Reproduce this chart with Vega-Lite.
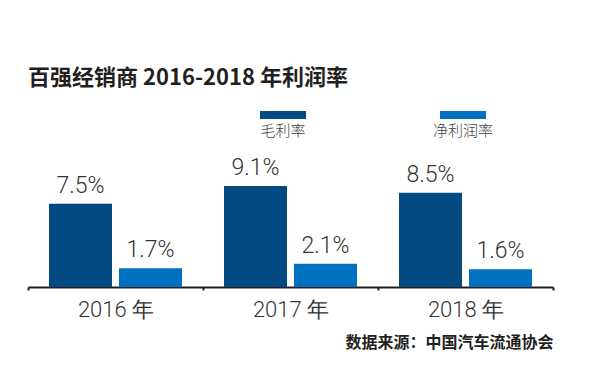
{
  "$schema": "https://vega.github.io/schema/vega-lite/v6.json",
  "autosize": {"type": "none"},
  "width": 525,
  "height": 111,
  "padding": {"left": 28, "top": 176, "right": 36, "bottom": 95},
  "background": "#ffffff",
  "title": {
    "text": "百强经销商 2016-2018 年利润率",
    "anchor": "start",
    "frame": "group",
    "font": "Noto Sans CJK SC",
    "fontWeight": "bold",
    "fontSize": 22,
    "color": "#231f20",
    "offset": 18
  },
  "config": {
    "view": {"stroke": null},
    "text": {"font": "Roboto"}
  },
  "data": {
    "values": [
      {"year": "2016 年", "type": "毛利率", "value": 7.5, "label": "7.5%"},
      {"year": "2016 年", "type": "净利润率", "value": 1.7, "label": "1.7%"},
      {"year": "2017 年", "type": "毛利率", "value": 9.1, "label": "9.1%"},
      {"year": "2017 年", "type": "净利润率", "value": 2.1, "label": "2.1%"},
      {"year": "2018 年", "type": "毛利率", "value": 8.5, "label": "8.5%"},
      {"year": "2018 年", "type": "净利润率", "value": 1.6, "label": "1.6%"}
    ]
  },
  "encoding": {
    "x": {
      "field": "year",
      "type": "nominal",
      "sort": null,
      "scale": {"paddingInner": 0, "paddingOuter": 0},
      "axis": {
        "title": "数据来源：中国汽车流通协会",
        "titleFont": "Noto Sans CJK SC",
        "titleFontWeight": "bold",
        "titleFontSize": 16,
        "titleColor": "#231f20",
        "titleAnchor": "end",
        "titlePadding": 14,
        "labelAngle": 0,
        "labelFont": "Roboto",
        "labelFontWeight": 300,
        "labelFontSize": 22,
        "labelColor": "#333333",
        "labelPadding": 9,
        "domainColor": "#231f20",
        "domainWidth": 2,
        "tickBand": "extent",
        "tickColor": "#231f20",
        "tickWidth": 2,
        "tickSize": 3,
        "grid": false
      }
    },
    "xOffset": {
      "field": "type",
      "type": "nominal",
      "sort": ["毛利率", "净利润率"],
      "scale": {"paddingInner": 0.1, "paddingOuter": 0.3}
    },
    "y": {
      "field": "value",
      "type": "quantitative",
      "scale": {"domain": [0, 10]},
      "axis": null
    }
  },
  "layer": [
    {
      "mark": {"type": "bar"},
      "encoding": {
        "color": {
          "field": "type",
          "type": "nominal",
          "sort": ["毛利率", "净利润率"],
          "scale": {"domain": ["毛利率", "净利润率"], "range": ["#034a83", "#0071c0"]},
          "legend": {
            "title": null,
            "orient": "none",
            "direction": "horizontal",
            "legendX": 232,
            "legendY": -68,
            "padding": 0,
            "symbolType": "M-1,-0.87H1V-0.52H-1Z",
            "symbolSize": 2116,
            "symbolStrokeWidth": 0,
            "symbolOpacity": 1,
            "labelAlign": "center",
            "labelBaseline": "middle",
            "labelOffset": -23,
            "labelFont": "Noto Sans CJK SC",
            "labelFontWeight": 300,
            "labelFontSize": 15,
            "labelColor": "#444444",
            "columnPadding": 126
          }
        }
      }
    },
    {
      "mark": {
        "type": "text",
        "dy": -11,
        "baseline": "alphabetic",
        "fontSize": 23,
        "fontWeight": 300,
        "font": "Roboto",
        "fill": "#333333"
      },
      "encoding": {
        "text": {"field": "label"}
      }
    }
  ]
}
